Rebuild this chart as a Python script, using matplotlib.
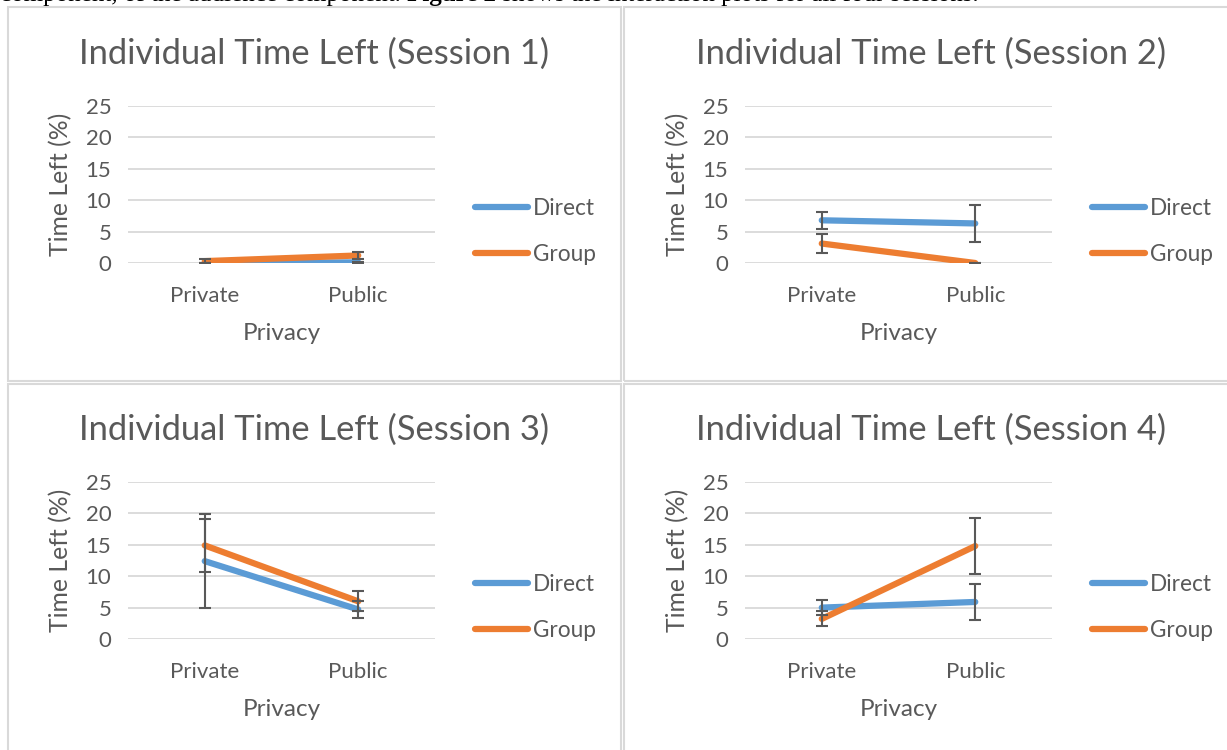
import matplotlib
matplotlib.use("Agg")
import matplotlib.pyplot as plt
from matplotlib.lines import Line2D
from matplotlib.patches import Rectangle

plt.rcParams["font.family"] = ["Lato", "DejaVu Sans"]

# data
categories = ["Private", "Public"]
sessions = [1, 2, 3, 4]
direct_means = [[0.0, 0.1], [6.8, 6.3], [12.4, 4.7], [5.0, 5.9]]
direct_err = [[0.0, 0.1], [1.4, 2.9], [7.5, 1.4], [1.2, 2.9]]
group_means = [[0.3, 1.2], [3.1, 0.0], [14.9, 6.0], [3.2, 14.8]]
group_err = [[0.3, 0.6], [1.5, 0.0], [4.2, 1.6], [1.2, 4.4]]
y_ticks = [0, 5, 10, 15, 20, 25]

BLUE = "#5B9BD5"
ORANGE = "#ED7D31"
TXT = "#595959"
GRID = "#D9D9D9"
W, H = 1227, 750


def frac(x0, y0, x1, y1):
    # pixel box (top-left origin) -> figure fraction rect
    return [x0 / W, 1 - y1 / H, (x1 - x0) / W, (y1 - y0) / H]


fig = plt.figure(figsize=(W / 100, H / 100), dpi=100)

# panel borders
for (x0, y0, x1, y1) in [(8, 7, 621, 381), (624, 7, 1240, 381),
                         (8, 384, 621, 760), (624, 384, 1240, 760)]:
    fig.patches.append(Rectangle((x0 / W, 1 - y1 / H), (x1 - x0) / W, (y1 - y0) / H,
                                 transform=fig.transFigure, fill=False,
                                 edgecolor=GRID, lw=1.5))

offsets = [(0, 0), (617, 0), (0, 376), (617, 376)]
x = [0, 1]

for i, s in enumerate(sessions):
    dx, dy = offsets[i]
    ax = fig.add_axes(frac(128 + dx, 106 + dy, 435 + dx, 263 + dy))
    ax.plot(x, direct_means[i], color=BLUE, lw=4.5, solid_capstyle="round",
            label="Direct", zorder=3)
    ax.plot(x, group_means[i], color=ORANGE, lw=4.5, solid_capstyle="round",
            label="Group", zorder=4)
    ax.errorbar(x, direct_means[i], yerr=direct_err[i], fmt="none", ecolor=TXT,
                elinewidth=1.5, capsize=4, capthick=1.5, zorder=5)
    ax.errorbar(x, group_means[i], yerr=group_err[i], fmt="none", ecolor=TXT,
                elinewidth=1.5, capsize=4, capthick=1.5, zorder=5)

    ax.set_xlim(-0.5, 1.5)
    ax.set_ylim(0, 25)
    ax.set_yticks(y_ticks)
    ax.set_xticks(x)
    ax.set_xticklabels(categories)
    ax.tick_params(axis="both", length=0, labelsize=16, labelcolor=TXT)
    ax.tick_params(axis="y", pad=12)
    ax.tick_params(axis="x", pad=16.5)
    ax.grid(axis="y", color=GRID, lw=1.3)
    ax.set_axisbelow(True)
    for sp in ax.spines.values():
        sp.set_visible(False)

    ax.text(0.606, 1.33, f"Individual Time Left (Session {s})", transform=ax.transAxes,
            ha="center", va="center", fontsize=24.8, color=TXT)
    ax.text(0.5, -0.446, "Privacy", transform=ax.transAxes, ha="center", va="center",
            fontsize=17.5, color=TXT)
    ax.text(-0.221, 0.5, "Time Left (%)", transform=ax.transAxes, ha="center",
            va="center", rotation=90, fontsize=17.8, color=TXT)

    handles = [Line2D([0], [0], color=BLUE, lw=4.5, solid_capstyle="round"),
               Line2D([0], [0], color=ORANGE, lw=4.5, solid_capstyle="round")]
    ax.legend(handles, ["Direct", "Group"], loc="center left",
              bbox_to_anchor=(1.13, 0.2), frameon=False, fontsize=16.3,
              labelcolor=TXT, handlelength=2.35, handletextpad=0.22,
              labelspacing=1.1, borderpad=0, borderaxespad=0)

# clipped line of body text above the charts
fig.canvas.draw()
r = fig.canvas.get_renderer()
pieces = [("component, of the audience component. ", "normal"),
          ("Figure 2", "bold"),
          (" shows the interaction plots for all four sessions.", "normal")]
xp = 0
for txt, wt in pieces:
    t = fig.text(xp / W, 1 - 1.5 / H, txt, family=["Liberation Serif"],
                 fontsize=18, fontweight=wt, va="baseline", ha="left", color="black")
    xp += t.get_window_extent(r).width

fig.savefig("out.png", dpi=100)
